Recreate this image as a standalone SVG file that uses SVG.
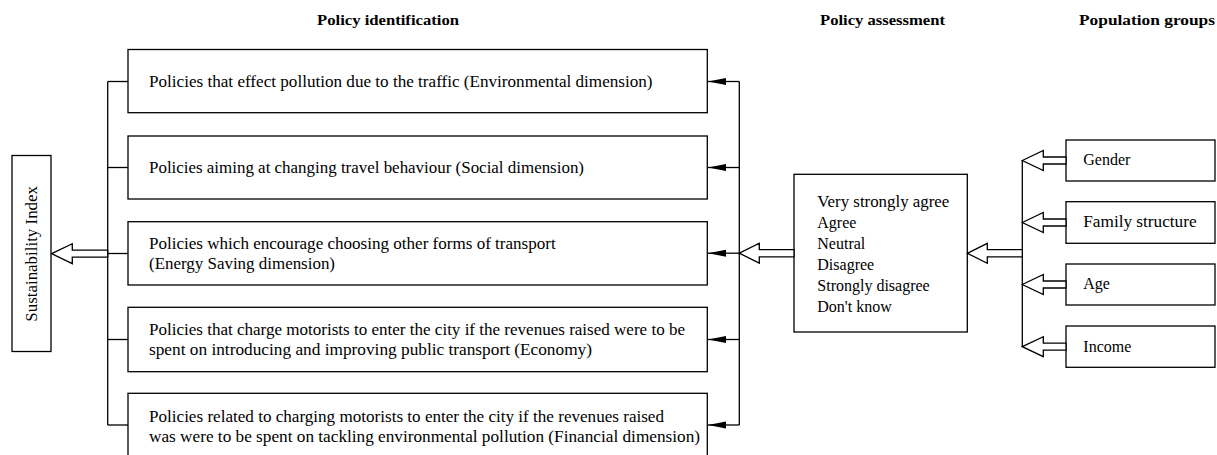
<svg xmlns="http://www.w3.org/2000/svg" width="1217" height="455" viewBox="0 0 1217 455">
<style>
.box{fill:#fff;stroke:#000;stroke-width:1.3}
.ln{fill:none;stroke:#000;stroke-width:1.3}
.ha{fill:#fff;stroke:#000;stroke-width:1.3;stroke-linejoin:miter}
.t{font-family:"Liberation Serif","Times New Roman",serif;font-size:16px;fill:#000}
.h{font-family:"Liberation Serif","Times New Roman",serif;font-size:15px;font-weight:bold;fill:#000}
</style>
<defs>
<marker id="sa" viewBox="0 0 18 8" refX="18" refY="4" markerWidth="18" markerHeight="8" markerUnits="userSpaceOnUse" orient="auto">
<path d="M0,0.5 L18,4 L0,7.5 Z" fill="#000"/>
</marker>
</defs>
<rect width="1217" height="455" fill="#fff"/>

<g id="titles">
<text class="h" x="317" y="25" textLength="142" lengthAdjust="spacingAndGlyphs">Policy identification</text>
<text class="h" x="820" y="25" textLength="125" lengthAdjust="spacingAndGlyphs">Policy assessment</text>
<text class="h" x="1079" y="25" textLength="136" lengthAdjust="spacingAndGlyphs">Population groups</text>
</g>

<g id="sustainability-index">
<rect class="box" x="12" y="155.5" width="39" height="196"/>
<text class="t" transform="translate(36.5,321.7) rotate(-90)" textLength="135.7" lengthAdjust="spacingAndGlyphs">Sustainability Index</text>
</g>

<g id="policy-1">
<rect class="box" x="128" y="49.5" width="579.3" height="63.2"/>
<text class="t" x="149" y="86.5" textLength="503.5" lengthAdjust="spacingAndGlyphs">Policies that effect pollution due to the traffic (Environmental dimension)</text>
</g>
<g id="policy-2">
<rect class="box" x="128" y="136" width="579.3" height="63"/>
<text class="t" x="149" y="172.5" textLength="435" lengthAdjust="spacingAndGlyphs">Policies aiming at changing travel behaviour (Social dimension)</text>
</g>
<g id="policy-3">
<rect class="box" x="128" y="221.7" width="579.3" height="63.3"/>
<text class="t" x="149" y="248.5" textLength="406.7" lengthAdjust="spacingAndGlyphs">Policies which encourage choosing other forms of transport</text>
<text class="t" x="149" y="268.5" textLength="186" lengthAdjust="spacingAndGlyphs">(Energy Saving dimension)</text>
</g>
<g id="policy-4">
<rect class="box" x="128" y="307.3" width="579.3" height="64.4"/>
<text class="t" x="149" y="334.5" textLength="536" lengthAdjust="spacingAndGlyphs">Policies that charge motorists to enter the city if the revenues raised were to be</text>
<text class="t" x="149" y="354.5" textLength="443" lengthAdjust="spacingAndGlyphs">spent on introducing and improving public transport (Economy)</text>
</g>
<g id="policy-5">
<rect class="box" x="128" y="393.3" width="579.3" height="70"/>
<text class="t" x="149" y="421.7" textLength="515" lengthAdjust="spacingAndGlyphs">Policies related to charging motorists to enter the city if the revenues raised</text>
<text class="t" x="149" y="441.7" textLength="551" lengthAdjust="spacingAndGlyphs">was were to be spent on tackling environmental pollution (Financial dimension)</text>
</g>

<g id="policy-assessment">
<rect class="box" x="794" y="174.3" width="173.3" height="157.7"/>
<text class="t" x="817.3" y="207.3" textLength="132" lengthAdjust="spacingAndGlyphs">Very strongly agree</text>
<text class="t" x="817.3" y="228.2">Agree</text>
<text class="t" x="817.3" y="249.1">Neutral</text>
<text class="t" x="817.3" y="270">Disagree</text>
<text class="t" x="817.3" y="290.9">Strongly disagree</text>
<text class="t" x="817.3" y="311.7">Don't know</text>
</g>

<g id="gender">
<rect class="box" x="1066" y="140" width="149" height="41"/>
<text class="t" x="1083.3" y="165">Gender</text>
</g>
<g id="family-structure">
<rect class="box" x="1066" y="201.7" width="149" height="41.6"/>
<text class="t" x="1083.3" y="227.3" textLength="113.3" lengthAdjust="spacingAndGlyphs">Family structure</text>
</g>
<g id="age">
<rect class="box" x="1066" y="264" width="149" height="41"/>
<text class="t" x="1083.3" y="289.3">Age</text>
</g>
<g id="income">
<rect class="box" x="1066" y="326" width="149" height="41.3"/>
<text class="t" x="1083.3" y="351.7">Income</text>
</g>

<g id="connectors">
<line class="ln" x1="107.7" y1="81.5" x2="107.7" y2="425"/>
<line class="ln" x1="107.7" y1="81.5" x2="128" y2="81.5"/>
<line class="ln" x1="107.7" y1="167.5" x2="128" y2="167.5"/>
<line class="ln" x1="107.7" y1="253.5" x2="128" y2="253.5"/>
<line class="ln" x1="107.7" y1="339.5" x2="128" y2="339.5"/>
<line class="ln" x1="107.7" y1="425" x2="128" y2="425"/>
<polygon class="ha" points="51.7,253.7 72.3,243.7 72.3,250.2 107.7,250.2 107.7,257.2 72.3,257.2 72.3,263.7"/>

<line class="ln" x1="739.3" y1="81.5" x2="739.3" y2="425"/>
<path class="ln" d="M739.3,81.5 H708" marker-end="url(#sa)"/>
<path class="ln" d="M739.3,167.5 H708" marker-end="url(#sa)"/>
<path class="ln" d="M739.3,253.2 H708" marker-end="url(#sa)"/>
<path class="ln" d="M739.3,339.5 H708" marker-end="url(#sa)"/>
<path class="ln" d="M739.3,425 H708" marker-end="url(#sa)"/>
<polygon class="ha" points="739.3,253.2 759.3,243.2 759.3,249.6 794,249.6 794,256.8 759.3,256.8 759.3,263.2"/>

<line class="ln" x1="1022.3" y1="160.5" x2="1022.3" y2="346.7"/>
<polygon class="ha" points="967.3,253.3 987.3,243.3 987.3,249.7 1022.3,249.7 1022.3,256.9 987.3,256.9 987.3,263.3"/>
<polygon class="ha" points="1022.3,160.5 1043.3,150.5 1043.3,157 1066,157 1066,164 1043.3,164 1043.3,170.5"/>
<polygon class="ha" points="1022.3,222.5 1043.3,212.5 1043.3,219 1066,219 1066,226 1043.3,226 1043.3,232.5"/>
<polygon class="ha" points="1022.3,284.5 1043.3,274.5 1043.3,281 1066,281 1066,288 1043.3,288 1043.3,294.5"/>
<polygon class="ha" points="1022.3,346.7 1043.3,336.7 1043.3,343.2 1066,343.2 1066,350.2 1043.3,350.2 1043.3,356.7"/>
</g>
</svg>
